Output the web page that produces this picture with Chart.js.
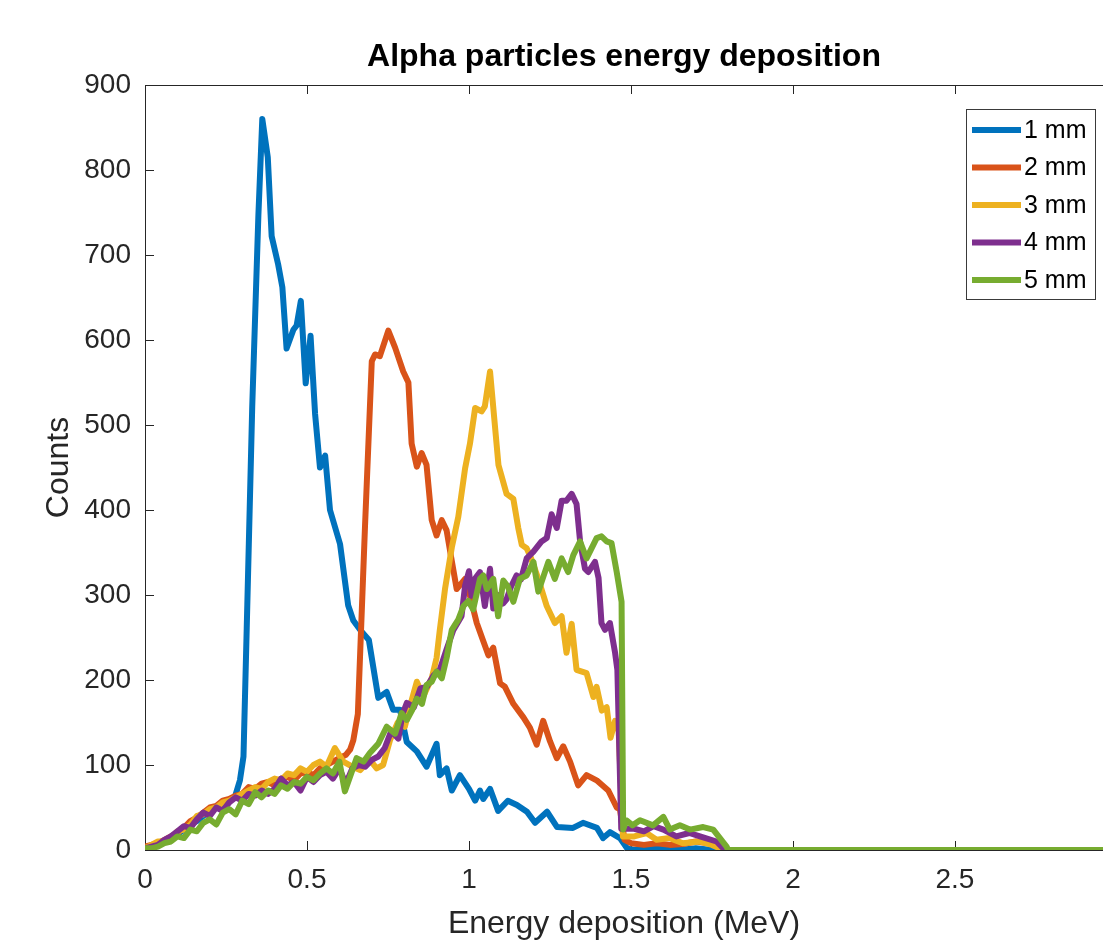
<!DOCTYPE html>
<html>
<head>
<meta charset="utf-8">
<script src="https://cdn.jsdelivr.net/npm/chart.js@4.4.1/dist/chart.umd.min.js"></script>
<style>
html,body{margin:0;padding:0;background:#fff;overflow:hidden}
canvas{display:block}
</style>
</head>
<body>
<canvas id="c" width="1103" height="943"></canvas>
<script>
// ---------------- data ----------------
const seriesLabels = ['1 mm', '2 mm', '3 mm', '4 mm', '5 mm'];
const seriesColors = ['#0072BD', '#D95319', '#EDB120', '#7E2F8E', '#77AC30'];
const xTickValues = [0, 0.5, 1, 1.5, 2, 2.5];
const yTickValues = [0, 100, 200, 300, 400, 500, 600, 700, 800, 900];

const energy1mm = [0,0.02,0.04,0.06,0.08,0.10,0.12,0.14,0.16,0.18,0.20,0.22,0.24,0.26,0.278,0.293,0.304,0.314,0.331,0.35,0.362,0.379,0.391,0.411,0.424,0.437,0.458,0.468,0.481,0.496,0.511,0.525,0.54,0.556,0.571,0.602,0.627,0.643,0.664,0.691,0.72,0.746,0.766,0.787,0.808,0.839,0.869,0.9,0.91,0.931,0.947,0.972,1.0,1.019,1.034,1.044,1.065,1.09,1.12,1.148,1.179,1.204,1.241,1.272,1.321,1.352,1.395,1.414,1.435,1.466,1.488,1.51,1.55,1.6,1.65,1.7,1.75,1.78,3.0];
const counts1mm = [2,4,6,10,14,18,24,30,34,40,46,50,54,58,63,82,110,261,522,747,860,815,722,689,662,590,612,617,646,549,605,513,450,464,400,360,288,270,259,247,179,186,165,165,127,116,98,125,88,96,70,88,72,58,70,60,72,46,58,53,45,32,45,27,26,32,26,14,21,14,2,0,3,2,0,2,0,0,0];

const energy2mm = [0,0.02,0.04,0.06,0.08,0.10,0.12,0.14,0.16,0.18,0.20,0.22,0.24,0.26,0.28,0.30,0.32,0.34,0.36,0.38,0.40,0.42,0.44,0.46,0.48,0.50,0.52,0.54,0.56,0.58,0.60,0.62,0.633,0.643,0.657,0.679,0.70,0.71,0.725,0.751,0.772,0.797,0.813,0.823,0.839,0.854,0.869,0.885,0.9,0.916,0.931,0.947,0.962,0.988,1.003,1.024,1.044,1.06,1.075,1.096,1.111,1.137,1.168,1.188,1.209,1.229,1.25,1.271,1.291,1.312,1.337,1.363,1.394,1.43,1.456,1.466,1.48,1.50,1.54,1.58,1.62,1.66,1.70,1.74,1.77,1.79,3.0];
const counts2mm = [4,6,8,12,16,20,26,34,38,44,50,52,58,60,64,66,74,72,78,80,76,84,86,82,90,92,88,96,100,104,108,112,118,129,160,380,575,583,581,611,591,563,550,478,451,467,453,388,370,388,376,340,307,319,299,267,246,229,238,196,192,172,156,144,124,152,128,108,122,104,76,88,82,70,50,48,12,8,6,8,6,7,10,8,4,0,0];

const energy3mm = [0,0.02,0.04,0.06,0.08,0.10,0.12,0.14,0.16,0.18,0.20,0.22,0.24,0.26,0.28,0.30,0.32,0.34,0.36,0.38,0.40,0.42,0.44,0.46,0.48,0.50,0.52,0.54,0.56,0.586,0.612,0.64,0.664,0.694,0.715,0.735,0.756,0.78,0.802,0.818,0.839,0.859,0.885,0.9,0.91,0.926,0.947,0.967,0.988,1.003,1.019,1.039,1.049,1.065,1.091,1.116,1.137,1.152,1.163,1.178,1.19,1.214,1.24,1.265,1.286,1.301,1.317,1.332,1.363,1.384,1.394,1.41,1.425,1.437,1.451,1.462,1.475,1.51,1.548,1.579,1.62,1.66,1.713,1.75,1.785,3.0];
const counts3mm = [2,6,10,10,14,22,24,30,40,42,48,50,56,58,62,66,70,74,72,80,84,82,90,88,96,92,100,104,98,120,104,98,94,106,96,100,129,150,145,169,198,181,202,226,259,307,356,392,449,478,520,516,522,563,453,419,413,379,359,355,345,319,287,267,275,232,266,212,208,180,192,164,168,132,152,140,16,16,20,12,14,8,10,6,0,0];

const energy4mm = [0,0.02,0.04,0.06,0.08,0.10,0.12,0.14,0.16,0.18,0.20,0.22,0.24,0.26,0.28,0.30,0.32,0.34,0.36,0.38,0.40,0.42,0.44,0.46,0.48,0.50,0.52,0.54,0.56,0.58,0.60,0.62,0.64,0.66,0.68,0.70,0.72,0.74,0.76,0.782,0.795,0.808,0.83,0.85,0.87,0.89,0.91,0.93,0.952,0.977,0.988,1.0,1.008,1.02,1.034,1.049,1.065,1.075,1.09,1.105,1.116,1.13,1.147,1.16,1.178,1.199,1.224,1.24,1.255,1.271,1.286,1.301,1.317,1.332,1.343,1.358,1.368,1.389,1.40,1.409,1.42,1.435,1.451,1.458,1.47,1.51,1.54,1.57,1.60,1.64,1.68,1.713,1.764,1.79,3.0];
const counts4mm = [2,4,6,12,16,22,28,26,36,44,40,50,46,56,62,58,66,64,70,66,72,84,76,80,70,86,80,88,92,84,96,78,96,100,98,106,110,120,140,131,160,173,168,190,192,205,212,235,259,275,311,328,299,320,327,287,331,284,300,290,295,310,323,318,343,351,363,367,395,379,411,411,419,407,363,331,327,339,320,267,259,267,232,212,25,25,22,28,24,16,20,16,10,0,0];

const energy5mm = [0,0.02,0.04,0.06,0.08,0.10,0.12,0.14,0.16,0.18,0.20,0.22,0.24,0.26,0.28,0.30,0.32,0.34,0.36,0.38,0.40,0.42,0.44,0.46,0.48,0.50,0.52,0.54,0.56,0.58,0.60,0.617,0.653,0.675,0.694,0.72,0.746,0.772,0.792,0.808,0.825,0.839,0.855,0.869,0.885,0.9,0.916,0.931,0.947,0.967,0.983,0.998,1.013,1.034,1.044,1.055,1.075,1.09,1.106,1.12,1.137,1.157,1.178,1.199,1.214,1.245,1.265,1.286,1.306,1.322,1.343,1.363,1.394,1.409,1.425,1.44,1.456,1.471,1.476,1.486,1.505,1.528,1.568,1.6,1.62,1.651,1.682,1.723,1.754,1.795,1.8,3.0];
const counts5mm = [2,2,4,8,10,16,14,24,22,32,36,30,44,48,42,58,54,68,62,70,66,76,72,80,78,86,82,90,96,90,104,69,108,104,114,125,145,137,161,153,165,178,172,194,198,210,202,226,259,271,287,293,283,319,323,307,319,275,317,310,292,319,323,339,304,339,319,343,327,347,363,343,367,369,363,361,327,292,24,35,29,35,29,39,24,29,24,27,24,4,0,0];

const energies = [energy1mm, energy2mm, energy3mm, energy4mm, energy5mm];
const counts = [counts1mm, counts2mm, counts3mm, counts4mm, counts5mm];

// ---------------- styling ----------------
const FONT = '"Liberation Sans", Arial, Helvetica, sans-serif';
const AXIS_COLOR = '#262626';

const datasets = seriesLabels.map((label, i) => ({
  label,
  data: energies[i].map((e, k) => ({ x: e, y: counts[i][k] })),
  borderColor: seriesColors[i],
  backgroundColor: seriesColors[i],
  borderWidth: 6,
  pointRadius: 0,
  tension: 0,
  fill: false,
  borderJoinStyle: 'round',
  borderCapStyle: 'round',
  order: seriesLabels.length - i
}));

const matlabAxes = {
  id: 'matlabAxes',
  beforeDatasetsDraw(chart) {
    const { ctx, chartArea: a, scales: { x, y } } = chart;
    ctx.save();
    ctx.strokeStyle = AXIS_COLOR;
    ctx.lineWidth = 1;
    ctx.beginPath();
    ctx.moveTo(a.left, Math.round(a.top) + 0.5);
    ctx.lineTo(a.right, Math.round(a.top) + 0.5);
    for (const v of xTickValues) {
      const px = Math.round(x.getPixelForValue(v)) + 0.5;
      ctx.moveTo(px, a.bottom); ctx.lineTo(px, a.bottom - 9);
      ctx.moveTo(px, a.top); ctx.lineTo(px, a.top + 9);
    }
    for (const v of yTickValues) {
      const py = Math.round(y.getPixelForValue(v)) + 0.5;
      ctx.moveTo(a.left, py); ctx.lineTo(a.left + 9, py);
    }
    ctx.stroke();
    ctx.restore();
  }
};

const matlabLegend = {
  id: 'matlabLegend',
  afterDraw(chart) {
    const { ctx, chartArea: a } = chart;
    const bx = a.right - 137, by = a.top + 24, bw = 129, bh = 190;
    ctx.save();
    ctx.fillStyle = '#ffffff';
    ctx.fillRect(bx, by, bw, bh);
    ctx.strokeStyle = '#3a3a3a';
    ctx.lineWidth = 1;
    ctx.strokeRect(bx + 0.5, by + 0.5, bw, bh);
    ctx.font = '25px ' + FONT;
    ctx.textBaseline = 'middle';
    ctx.textAlign = 'left';
    seriesLabels.forEach((lab, i) => {
      const ly = by + 21 + i * 37.5;
      ctx.strokeStyle = seriesColors[i];
      ctx.lineWidth = 6;
      ctx.beginPath();
      ctx.moveTo(bx + 6, ly); ctx.lineTo(bx + 55, ly);
      ctx.stroke();
      ctx.fillStyle = '#000000';
      ctx.fillText(lab, bx + 58, ly + 1);
    });
    ctx.restore();
  }
};

new Chart(document.getElementById('c'), {
  type: 'line',
  data: { datasets },
  plugins: [matlabAxes, matlabLegend],
  options: {
    responsive: false,
    animation: false,
    events: [],
    layout: { padding: { left: 0, right: 0, top: 0, bottom: 0 } },
    plugins: {
      legend: { display: false },
      tooltip: { enabled: false },
      title: {
        display: true,
        fullSize: false,
        text: 'Alpha particles energy deposition',
        color: '#000000',
        font: { family: FONT, size: 32, weight: 'bold' },
        padding: { top: 38, bottom: 8.6 }
      }
    },
    scales: {
      x: {
        type: 'linear',
        min: 0,
        max: 2.957,
        grid: { display: false, drawTicks: false },
        border: { display: true, color: AXIS_COLOR, width: 1 },
        afterBuildTicks: (s) => { s.ticks = xTickValues.map(v => ({ value: v })); },
        afterFit: (s) => { s.height = 93; },
        ticks: {
          padding: 13,
          color: AXIS_COLOR,
          font: { family: FONT, size: 28 },
          maxRotation: 0,
          autoSkip: false,
          callback: (v) => String(v)
        },
        title: {
          display: true,
          text: 'Energy deposition (MeV)',
          color: AXIS_COLOR,
          font: { family: FONT, size: 32 },
          padding: { top: 0, bottom: 0 }
        }
      },
      y: {
        type: 'linear',
        min: 0,
        max: 900,
        grid: { display: false, drawTicks: false },
        border: { display: true, color: AXIS_COLOR, width: 1 },
        afterBuildTicks: (s) => { s.ticks = yTickValues.map(v => ({ value: v })); },
        afterFit: (s) => { s.width = 145; },
        ticks: {
          padding: 14,
          color: AXIS_COLOR,
          font: { family: FONT, size: 28 },
          autoSkip: false,
          callback: (v) => String(v)
        },
        title: {
          display: true,
          text: 'Counts',
          color: AXIS_COLOR,
          font: { family: FONT, size: 32 },
          padding: { top: 40, bottom: 0 }
        }
      }
    }
  }
});
</script>
</body>
</html>
